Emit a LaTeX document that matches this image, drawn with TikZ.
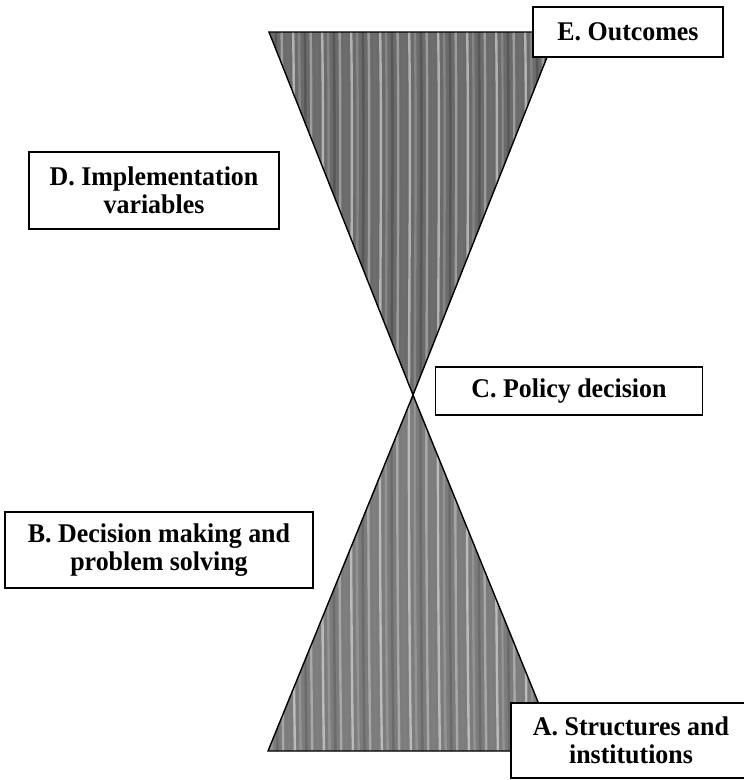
\documentclass[tikz,border=0pt]{standalone}
\usepackage{fontspec}
\setmainfont{Liberation Serif}[FakeStretch=0.96]
\begin{document}
\begin{tikzpicture}[x=1pt,y=-1pt,
  lbl/.style={draw=black,line width=1.6pt,fill=white,align=center,
    font=\fontsize{27}{28.5}\selectfont\bfseries,inner sep=0pt},
  tri/.style={draw=black,line width=1.4pt}]
\useasboundingbox (0,0) rectangle (744,780);
\coordinate (apex) at (413,395);
\coordinate (tl) at (269,32);
\coordinate (tr) at (557,32);
\coordinate (bl) at (268,751);
\coordinate (br) at (558,751);
% textured hourglass
\begin{scope}
  \clip (tl) -- (tr) -- (apex) -- cycle (bl) -- (br) -- (apex) -- cycle;
  \fill[black!58] (260,20) rectangle (570,760);
  \foreach \i in {0,...,52}{
    \pgfmathsetmacro{\sh}{30+9*mod(\i*7,5)}
    \pgfmathsetmacro{\xx}{264+\i*5.8}
    \draw[black!\sh,line width=2.4pt] (\xx,20) .. controls (\xx+3,200) and (\xx-3,400) .. (\xx+2,760);
  }
  \fill[white,opacity=0.12] (260,400) rectangle (570,760);
\end{scope}
\draw[tri] (tl) -- (tr) -- (apex) -- cycle;
\draw[tri] (bl) -- (br) -- (apex) -- cycle;
% labels
\node[lbl,minimum width=190,minimum height=50] (E) at (628,32) {E. Outcomes};
\node[lbl,minimum width=250,minimum height=77] (D) at (154,190.5) {D. Implementation\\variables};
\node[lbl,minimum width=267,minimum height=48] (C) at (569,391) {C. Policy decision};
\node[lbl,minimum width=308,minimum height=76] (B) at (159,550) {B. Decision making and\\problem solving};
\node[lbl,minimum width=240,minimum height=75] (A) at (631,740.5) {A. Structures and\\institutions};
\end{tikzpicture}
\end{document}
